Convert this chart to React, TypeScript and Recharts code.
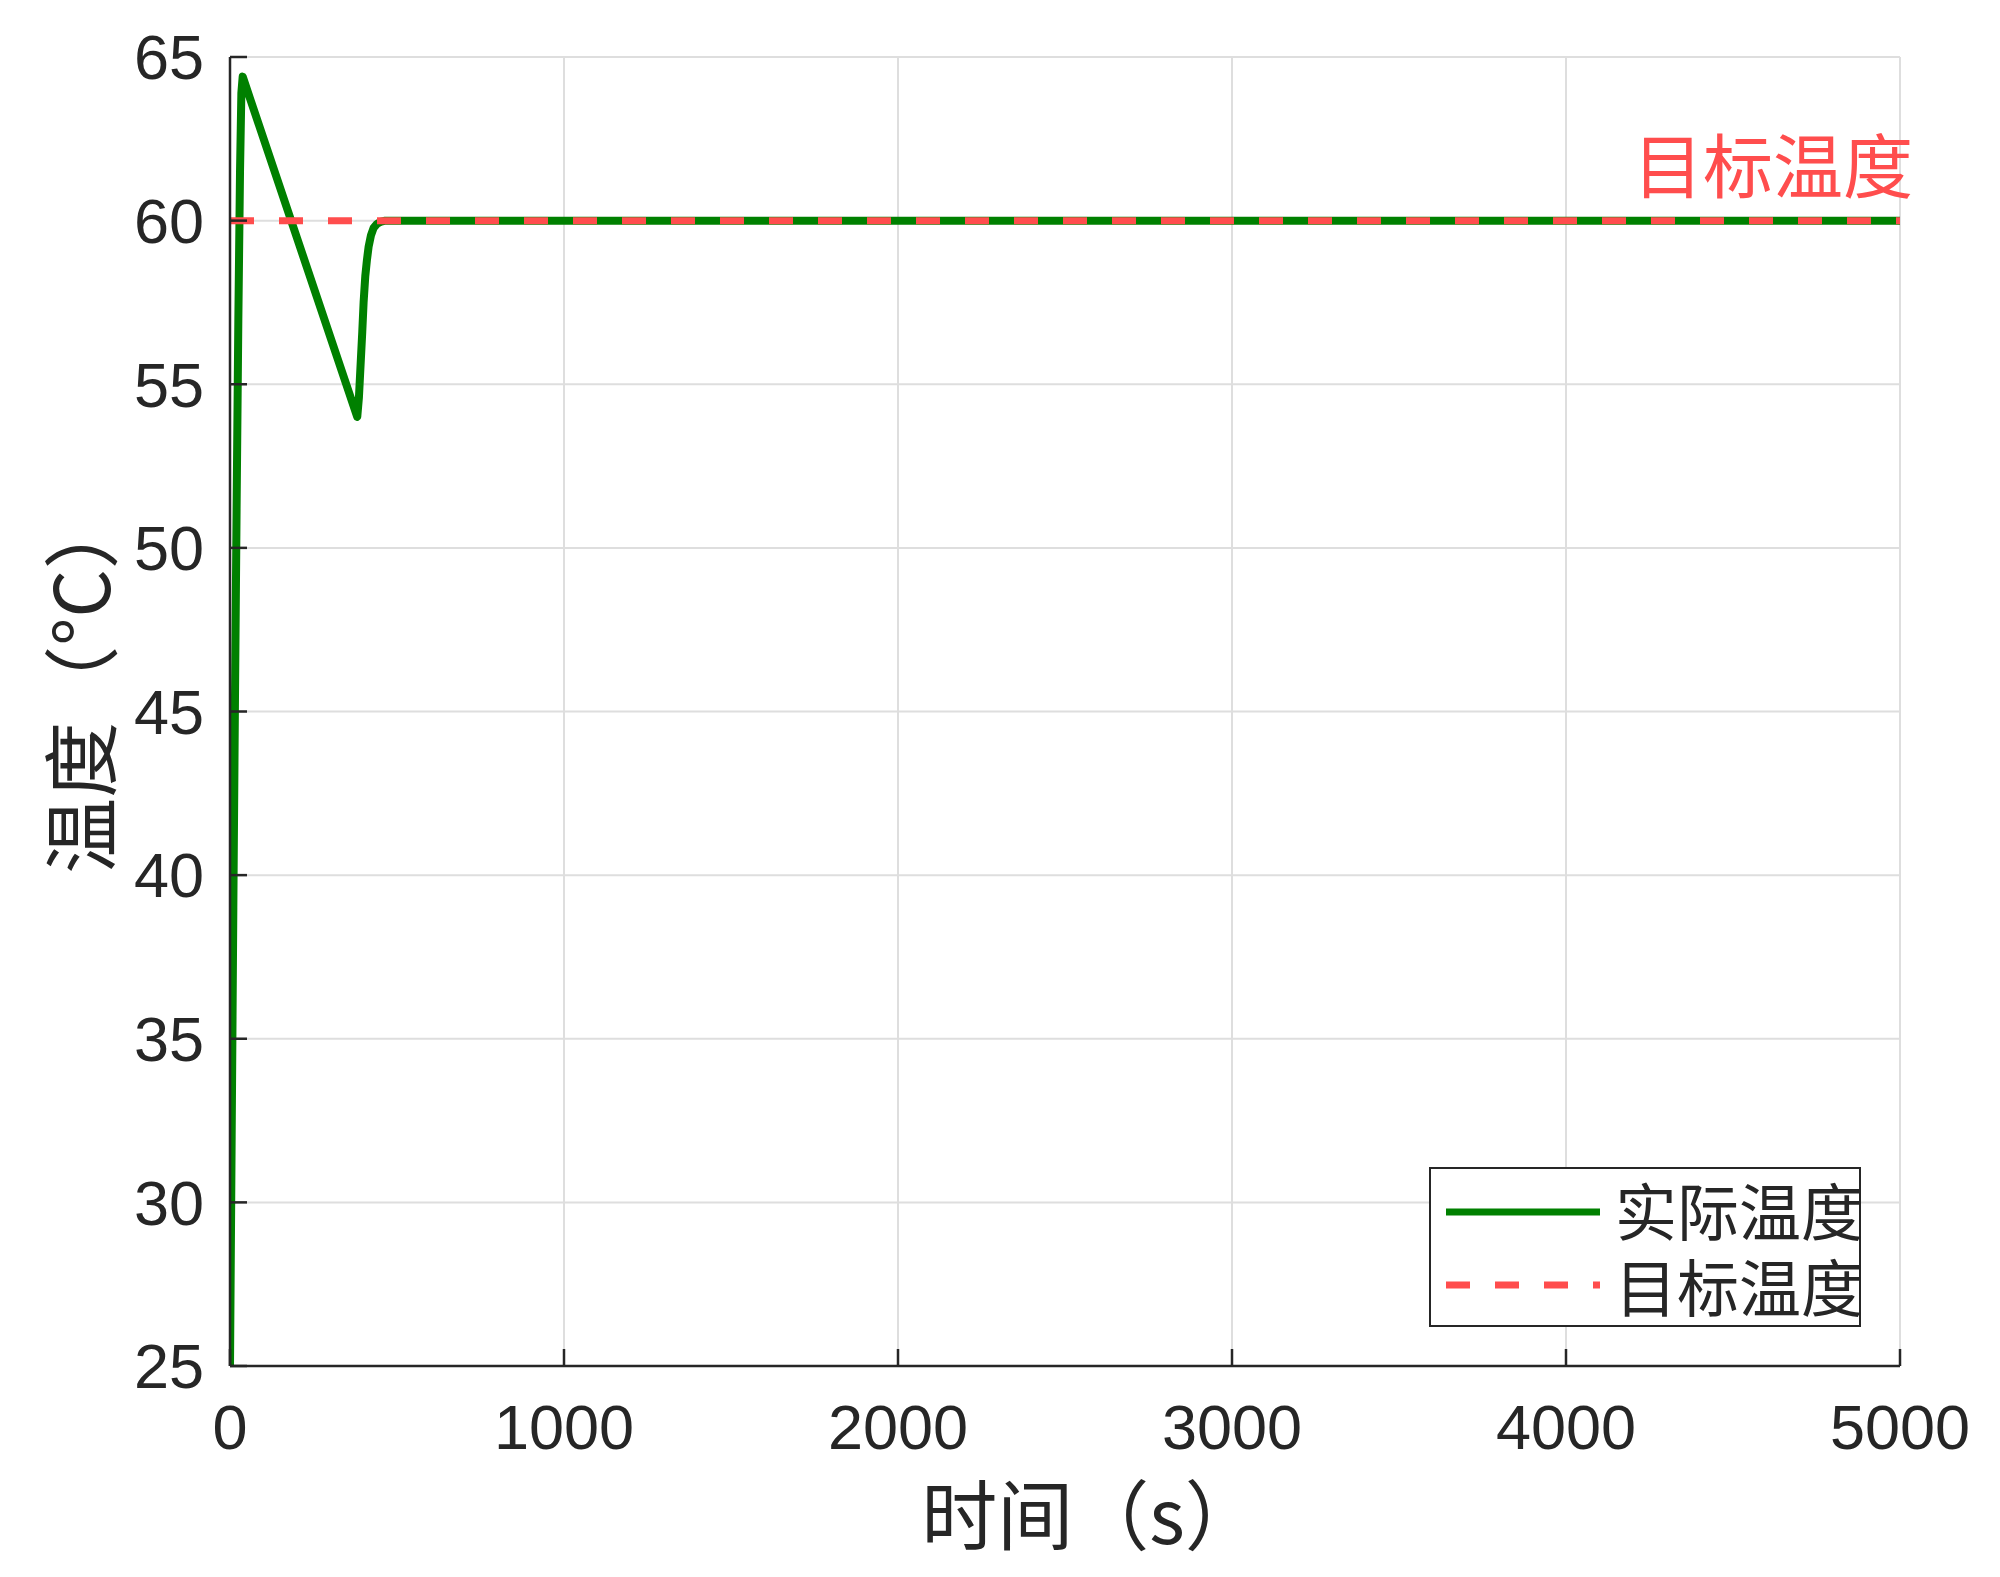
import React from "react";
import {
  LineChart,
  Line,
  XAxis,
  YAxis,
  CartesianGrid,
  Legend,
  ReferenceDot,
} from "recharts";

const actualTime = [
  0, 5, 10, 15, 20, 25, 30, 34, 38, 381, 386, 391, 396, 400, 405, 410, 415,
  422, 430, 440, 450, 465, 5000,
];
const actualTemp = [
  25, 32, 39, 45.5, 51.5, 57, 61.5, 63.9, 64.4, 54.0, 54.6, 55.6, 56.6, 57.5,
  58.3, 58.8, 59.2, 59.55, 59.78, 59.9, 59.96, 60, 60,
];
// setpoint
const targetTime = [0, 5000];
const targetTemp = [60, 60];

const xTicks = [0, 1000, 2000, 3000, 4000, 5000];
const yTicks = [25, 30, 35, 40, 45, 50, 55, 60, 65];

const actualData = actualTime.map((t, i) => ({ t, v: actualTemp[i] }));
const targetData = targetTime.map((t, i) => ({ t, v: targetTemp[i] }));

const AXIS_COL = "#262626";
const GREEN = "#008000";
const RED = "#FF4D4D";
const TICK_FONT = "'Liberation Sans', Arial, sans-serif";
const CJK_FONT = "'Noto Sans CJK SC', sans-serif";

function LegendBox() {
  return (
    <div
      style={{
        width: 428,
        height: 156,
        border: `2px solid ${AXIS_COL}`,
        background: "#fff",
        position: "relative",
        fontFamily: CJK_FONT,
        fontSize: 62,
        color: AXIS_COL,
        overflow: "visible",
      }}
    >
      <svg
        width={200}
        height={156}
        style={{ position: "absolute", left: 0, top: 0 }}
      >
        <line x1={15} x2={169} y1={43} y2={43} stroke={GREEN} strokeWidth={7} />
        <line
          x1={15}
          x2={169}
          y1={116}
          y2={116}
          stroke={RED}
          strokeWidth={7}
          strokeDasharray="24 25"
        />
      </svg>
      <div
        style={{
          position: "absolute",
          left: 184,
          top: 2,
          lineHeight: "76px",
          whiteSpace: "nowrap",
        }}
      >
        <div>实际温度</div>
        <div>目标温度</div>
      </div>
    </div>
  );
}

export default function App() {
  return (
    <div style={{ position: "absolute", left: 0, top: 0, background: "#fff" }}>
      <LineChart
        width={2000}
        height={1577}
        margin={{ top: 57, right: 100, bottom: 0, left: 0 }}
      >
        <CartesianGrid stroke="#dedede" strokeWidth={2} />
        <XAxis
          dataKey="t"
          type="number"
          domain={[0, 5000]}
          ticks={xTicks}
          height={211}
          axisLine={{ stroke: AXIS_COL, strokeWidth: 2.5 }}
          tickLine={{ stroke: AXIS_COL, strokeWidth: 2.5 }}
          tickSize={-17}
          tickMargin={55}
          tick={{ fill: AXIS_COL, fontSize: 63, fontFamily: TICK_FONT }}
          allowDataOverflow
          label={{
            content: (props: any) => {
              const vb = props.viewBox;
              return (
                <text
                  x={vb.x + vb.width / 2 + 26}
                  y={vb.y + 145}
                  textAnchor="middle"
                  dominantBaseline="central"
                  fontSize={76}
                  fontFamily={CJK_FONT}
                  fill={AXIS_COL}
                >
                  时间（s）
                </text>
              );
            },
          }}
        />
        <XAxis
          xAxisId="top"
          orientation="top"
          dataKey="t"
          type="number"
          domain={[0, 5000]}
          ticks={xTicks}
          height={0}
          axisLine={{ stroke: AXIS_COL, strokeWidth: 2.5 }}
          tickLine={{ stroke: AXIS_COL, strokeWidth: 2.5 }}
          tickSize={-17}
          tick={false}
        />
        <YAxis
          type="number"
          domain={[25, 65]}
          ticks={yTicks}
          width={230}
          axisLine={{ stroke: AXIS_COL, strokeWidth: 2.5 }}
          tickLine={{ stroke: AXIS_COL, strokeWidth: 2.5 }}
          tickSize={-17}
          tickMargin={43}
          tick={{ fill: AXIS_COL, fontSize: 63, fontFamily: TICK_FONT }}
          allowDataOverflow
          label={{
            content: (props: any) => {
              const vb = props.viewBox;
              const cx = 77;
              const cy = vb.y + vb.height / 2 - 28;
              return (
                <text
                  x={cx}
                  y={cy}
                  textAnchor="middle"
                  dominantBaseline="central"
                  fontSize={76}
                  fontFamily={CJK_FONT}
                  fill={AXIS_COL}
                  transform={`rotate(-90 ${cx} ${cy})`}
                >
                  温度（°C）
                </text>
              );
            },
          }}
        />
        <YAxis
          yAxisId="right"
          orientation="right"
          type="number"
          domain={[25, 65]}
          ticks={yTicks}
          width={0}
          axisLine={{ stroke: AXIS_COL, strokeWidth: 2.5 }}
          tickLine={{ stroke: AXIS_COL, strokeWidth: 2.5 }}
          tickSize={-17}
          tick={false}
        />
        <Line
          data={actualData}
          dataKey="v"
          name="实际温度"
          type="linear"
          stroke={GREEN}
          strokeWidth={8}
          strokeLinejoin="round"
          dot={false}
          activeDot={false}
          isAnimationActive={false}
        />
        <Line
          data={targetData}
          dataKey="v"
          name="目标温度"
          type="linear"
          stroke={RED}
          strokeWidth={7}
          strokeDasharray="24 25"
          dot={false}
          activeDot={false}
          isAnimationActive={false}
        />
        <ReferenceDot
          x={4620}
          y={61.6}
          r={0}
          ifOverflow="visible"
          label={{
            value: "目标温度",
            position: "center",
            fill: RED,
            fontSize: 70,
            fontFamily: CJK_FONT,
          }}
        />
        <Legend
          layout="vertical"
          align="center"
          verticalAlign="middle"
          content={() => <LegendBox />}
          wrapperStyle={{ left: 1429, top: 1167, width: 432 }}
        />
      </LineChart>
    </div>
  );
}
